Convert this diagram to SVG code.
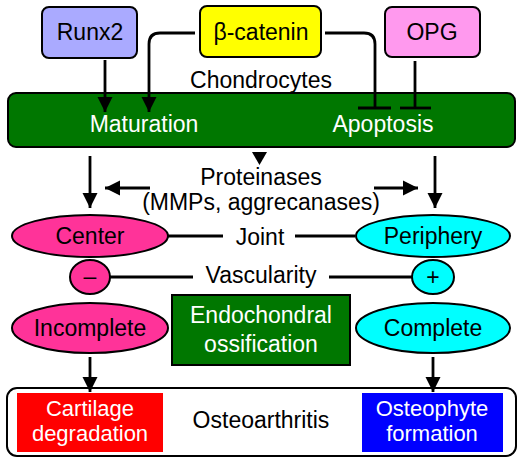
<svg xmlns="http://www.w3.org/2000/svg" width="524" height="461" viewBox="0 0 524 461">
<defs>
<marker id="ah" viewBox="0 0 10 10" refX="10" refY="5" markerWidth="5.5" markerHeight="5.5" markerUnits="strokeWidth" orient="auto">
<path d="M0,0 L10,5 L0,10 Z" fill="#000"/>
</marker>
</defs>
<style>
text{font-family:"Liberation Sans",Arial,sans-serif;font-size:23px;text-anchor:middle;fill:#000}
.w{fill:#fff}
.s{font-size:22px}
.ln{stroke:#000;stroke-width:2.8;fill:none}
.box{stroke:#000;stroke-width:2}
</style>
<rect width="524" height="461" fill="#fff"/>
<g id="chondrocytes">
<rect x="8" y="93" width="507" height="54" rx="8" fill="#007700" class="box"/>
<text x="261" y="88">Chondrocytes</text>
<text x="144" y="132" class="w">Maturation</text>
<text x="383" y="132" class="w">Apoptosis</text>
</g>
<g id="runx2">
<rect x="42" y="7" width="95" height="51" rx="7" fill="#aaaaff" class="box"/>
<text x="90" y="40">Runx2</text>
</g>
<g id="bcatenin">
<rect x="200" y="6" width="121" height="51" rx="7" fill="#ffff00" class="box"/>
<text x="261" y="40">β-catenin</text>
</g>
<g id="opg">
<rect x="385" y="7" width="95" height="50" rx="7" fill="#ff99ee" class="box"/>
<text x="432" y="40">OPG</text>
</g>
<g id="center">
<ellipse cx="90" cy="236" rx="78" ry="21" fill="#ff3399" class="box"/>
<text x="90" y="244">Center</text>
</g>
<g id="periphery">
<ellipse cx="433" cy="236" rx="77" ry="21" fill="#00ffff" class="box"/>
<text x="433" y="244">Periphery</text>
</g>
<g id="minus">
<ellipse cx="90" cy="277" rx="20" ry="17" fill="#ff3399" class="box"/>
<text x="90" y="284">–</text>
</g>
<g id="plus">
<ellipse cx="433" cy="277" rx="21" ry="17" fill="#00ffff" class="box"/>
<text x="433" y="285">+</text>
</g>
<g id="incomplete">
<ellipse cx="90" cy="328" rx="78" ry="25" fill="#ff3399" class="box"/>
<text x="90" y="336">Incomplete</text>
</g>
<g id="complete">
<ellipse cx="433" cy="328" rx="77" ry="25" fill="#00ffff" class="box"/>
<text x="433" y="336">Complete</text>
</g>
<g id="endochondral">
<rect x="172" y="295" width="178" height="70" fill="#007700" class="box"/>
<text x="261" y="323" class="w">Endochondral</text>
<text x="261" y="352" class="w">ossification</text>
</g>
<g id="proteinases">
<text x="261" y="185">Proteinases</text>
<text x="261" y="210">(MMPs, aggrecanases)</text>
</g>
<g id="joint"><text x="260" y="245">Joint</text></g>
<g id="vascularity"><text x="261" y="283">Vascularity</text></g>
<g id="osteoarthritis">
<rect x="7" y="388" width="509" height="68" rx="10" fill="#fff" class="box"/>
<rect x="17" y="393" width="146" height="59" fill="#ff0000"/>
<rect x="362" y="393" width="141" height="59" fill="#0000ff"/>
<text x="90" y="416" class="w s">Cartilage</text>
<text x="90" y="441" class="w s">degradation</text>
<text x="432" y="416" class="w s">Osteophyte</text>
<text x="432" y="441" class="w s">formation</text>
<text x="261" y="428">Osteoarthritis</text>
</g>
<g id="connectors">
<path class="ln" d="M105,60 V112" marker-end="url(#ah)"/>
<path class="ln" d="M195,33 H160 Q149,33 149,44 V112" marker-end="url(#ah)"/>
<path class="ln" d="M325,33 H364 Q375,33 375,44 V108"/>
<path class="ln" d="M358,108 H391"/>
<path class="ln" d="M415,61 V108"/>
<path class="ln" d="M400,108 H431"/>
<path d="M252,152 L267,152 L259.5,165 Z" fill="#000"/>
<path class="ln" d="M90,156 V208" marker-end="url(#ah)"/>
<path class="ln" d="M435,156 V208" marker-end="url(#ah)"/>
<path class="ln" d="M150,188 H105" marker-end="url(#ah)"/>
<path class="ln" d="M374,188 H418" marker-end="url(#ah)"/>
<path class="ln" d="M168,236 H223 M295,236 H355"/>
<path class="ln" d="M110,277 H193 M329,277 H412"/>
<path class="ln" d="M90,357 V392" marker-end="url(#ah)"/>
<path class="ln" d="M433,357 V392" marker-end="url(#ah)"/>
</g>
</svg>
